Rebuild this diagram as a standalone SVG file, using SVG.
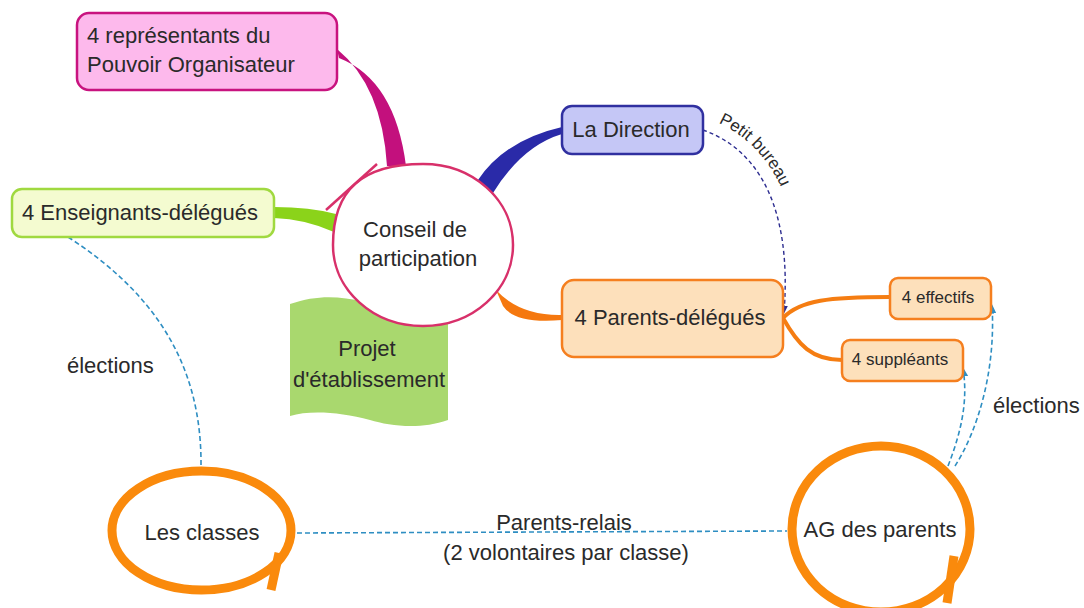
<svg xmlns="http://www.w3.org/2000/svg" width="1084" height="608" viewBox="0 0 1084 608">
<defs>
<style>
text{font-family:"Liberation Sans",Arial,sans-serif;fill:#2a2a2a;}
.t22{font-size:22px;}
.t17{font-size:17px;}
.mid{text-anchor:middle;}
.dash{fill:none;stroke:#2e8ec2;stroke-width:1.6;stroke-dasharray:5 3;}
.dashp{fill:none;stroke:#2d2d90;stroke-width:1.4;stroke-dasharray:4 3;}
.sub{fill:none;stroke:#f57d12;stroke-width:4;}
.ring{fill:none;stroke:#fa8a0c;stroke-width:9;}
.small{fill:#fde0bb;stroke:#f57f1f;stroke-width:2.5;}
</style>
<marker id="ab" viewBox="0 0 10 10" refX="9" refY="5" markerWidth="6" markerHeight="6" orient="auto"><path d="M0,1 L10,5 L0,9 Z" fill="#2e8ec2"/></marker>
<marker id="ap" viewBox="0 0 10 10" refX="9" refY="5" markerWidth="6" markerHeight="6" orient="auto"><path d="M0,1 L10,5 L0,9 Z" fill="#2d2d90"/></marker>
<path id="pb" d="M711,120 C 769,141 799,205 796,265"/>
</defs>

<g id="connectors">
<path d="M337,49 Q 382,86 387,166 L 406,166 Q 395,80 339,58 Z" fill="#c3107d"/>
<path d="M478,180 Q 505,140 562,127 L 562,134 Q 522,146 493,193 Z" fill="#2a2aa8"/>
<path d="M274,207 Q 310,207 336,214 L 334,232 Q 305,219 274,218 Z" fill="#8bd31a"/>
<path d="M496,290 Q 520,316 562,315 L 562,320 Q 515,324 503,306 Z" fill="#f5780f"/>
<path class="sub" d="M783,318 C 800,300 830,297 890,297"/>
<path class="sub" d="M783,318 C 798,345 812,360 842,360"/>
<path class="dashp" d="M703,130 C 760,150 792,210 784,313" marker-end="url(#ap)"/>
<path class="dash" d="M68,237 C 150,290 202,360 201,466"/>
<path class="dash" d="M297,533 L787,531"/>
<path class="dash" d="M955,466 C 978,430 996,370 992,305" marker-end="url(#ab)"/>
<path class="dash" d="M948,466 C 962,430 968,400 963,368" marker-end="url(#ab)"/>
<text class="t17"><textPath href="#pb" startOffset="8">Petit bureau</textPath></text>
<text class="t22" x="67" y="373">élections</text>
<text class="t22" x="993" y="413">élections</text>
<text class="t22 mid" x="564" y="530">Parents-relais</text>
<text class="t22 mid" x="566" y="560">(2 volontaires par classe)</text>
</g>

<g id="projet">
<path d="M290,304 C 330,290 360,300 400,312 C 420,318 440,318 448,315 L448,420 C 420,430 390,426 370,420 C 340,412 310,410 290,416 Z" fill="#a9d86e"/>
<text class="t22 mid" x="367" y="356">Projet</text>
<text class="t22 mid" x="369" y="387">d'établissement</text>
</g>

<g id="conseil">
<path d="M423,164 C 473,164 513,200 513,245 C 513,290 473,326 423,326 C 373,326 333,290 333,245 C 333,190 362,164 423,164 Z" fill="#ffffff" stroke="#d8306a" stroke-width="2.5"/>
<path d="M326,210 L377,164" fill="none" stroke="#d8306a" stroke-width="2.5"/>
<text class="t22 mid" x="415" y="237">Conseil de</text>
<text class="t22 mid" x="418" y="266">participation</text>
</g>

<g id="pouvoir">
<rect x="77" y="13" width="260" height="77" rx="12" fill="#fdb9ec" stroke="#c8137f" stroke-width="2.5"/>
<text class="t22" x="87" y="43">4 représentants du</text>
<text class="t22" x="87" y="72">Pouvoir Organisateur</text>
</g>

<g id="enseignants">
<rect x="12" y="189" width="262" height="48" rx="10" fill="#f4fbd0" stroke="#a0d940" stroke-width="2.5"/>
<text class="t22" x="22" y="220">4 Enseignants-délégués</text>
</g>

<g id="direction">
<rect x="562" y="106" width="141" height="48" rx="10" fill="#c5c7f6" stroke="#3030a0" stroke-width="2.5"/>
<text class="t22 mid" x="631" y="137">La Direction</text>
</g>

<g id="parents">
<rect x="562" y="280" width="221" height="77" rx="12" fill="#fde0bb" stroke="#f57f1f" stroke-width="2.5"/>
<text class="t22 mid" x="670" y="325">4 Parents-délégués</text>
</g>

<g id="effectifs">
<rect class="small" x="890" y="278" width="101" height="41" rx="8"/>
<text class="t17 mid" x="938" y="303">4 effectifs</text>
</g>

<g id="suppleants">
<rect class="small" x="842" y="340" width="121" height="41" rx="8"/>
<text class="t17 mid" x="900" y="365">4 suppléants</text>
</g>

<g id="classes">
<ellipse class="ring" cx="201.5" cy="530.5" rx="89.5" ry="59.5"/>
<path d="M279,553 L271,590" stroke="#fa8a0c" stroke-width="9" fill="none"/>
<text class="t22 mid" x="202" y="540">Les classes</text>
</g>

<g id="ag">
<ellipse class="ring" cx="881" cy="529" rx="89" ry="83"/>
<path d="M954,556 L947,603" stroke="#fa8a0c" stroke-width="9" fill="none"/>
<text class="t22 mid" x="880" y="537">AG des parents</text>
</g>
</svg>
